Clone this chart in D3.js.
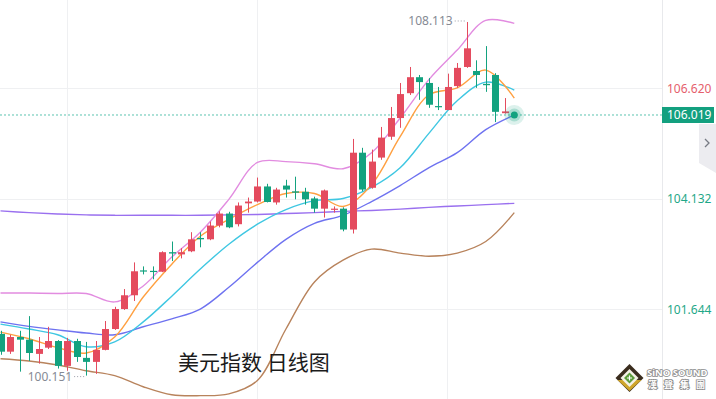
<!DOCTYPE html>
<html lang="zh">
<head>
<meta charset="utf-8">
<title>美元指数 日线图</title>
<script src="https://d3js.org/d3.v7.min.js"></script>
<style>
  body { margin: 0; background: #fff; }
  svg { display: block; font-family: "Noto Sans", "Noto Sans CJK SC", sans-serif; }
</style>
</head>
<body>
<svg id="chart" width="716" height="399"></svg>
<script>
// daily candles, oldest first
const opens  = [101.09,100.69,101.02,100.96,100.64,100.78,100.93,100.37,100.93,100.55,100.46,100.73,101.20,101.65,101.96,102.52,102.51,102.49,102.93,102.88,102.95,103.25,103.22,103.53,103.80,103.56,104.03,104.07,104.41,104.05,104.43,104.30,104.29,104.14,103.91,103.89,103.91,103.44,105.17,104.38,105.06,105.53,105.95,106.51,106.87,106.74,106.22,106.13,106.67,107.10,107.01,106.72,106.92,106.06];
const highs  = [101.16,101.07,101.16,101.49,101.02,101.25,100.95,101.00,100.98,100.91,100.93,101.38,101.70,102.10,102.70,102.61,102.61,102.95,103.17,103.02,103.38,103.38,103.62,103.85,103.84,104.05,104.16,104.61,104.47,104.38,104.56,104.63,104.38,104.18,104.34,103.96,103.94,105.48,105.28,105.24,105.75,106.20,106.74,107.10,106.92,106.85,106.65,106.95,107.19,108.113,107.25,107.57,106.96,106.40];
const lows   = [100.62,100.64,100.24,100.48,100.42,100.75,100.31,100.26,100.46,100.151,100.19,100.72,101.18,101.63,101.83,102.43,102.32,102.48,102.73,102.79,102.93,103.04,103.20,103.49,103.47,103.51,103.82,104.05,104.05,104.00,104.16,104.12,104.00,103.82,103.71,103.82,103.40,103.35,104.30,104.36,105.01,105.46,105.73,106.47,106.36,106.18,106.13,106.13,106.63,107.08,106.63,106.54,105.86,106.05];
const closes = [100.69,101.02,100.96,100.66,100.75,100.93,100.37,100.93,100.57,100.46,100.73,101.20,101.65,101.96,102.50,102.50,102.49,102.93,102.90,102.93,103.22,103.22,103.53,103.80,103.49,103.98,104.07,104.41,104.06,104.34,104.34,104.27,104.12,103.91,104.32,103.91,103.44,105.17,104.34,104.97,105.51,105.95,106.49,106.87,106.76,106.25,106.20,106.65,107.08,107.52,106.92,106.69,106.09,106.10];
const lastPrice = 106.019;

// indicator lines, read every third bar (index 54 = current point)
const lineIdx   = [0,3,6,9,12,15,18,21,24,27,30,33,36,39,42,45,48,51,54];
const maShort   = [101.13,100.98,100.78,100.66,101.02,101.92,102.66,103.29,103.67,104.00,104.25,104.25,103.96,104.45,105.53,106.47,106.63,107.03,106.40];
const maMid     = [101.31,101.20,101.07,100.80,100.91,101.36,101.94,102.55,103.11,103.56,103.89,104.09,104.14,104.39,104.83,105.60,106.34,106.76,106.58];
const maLong    = [101.36,101.26,101.18,101.11,101.07,101.25,101.43,101.65,102.14,102.70,103.22,103.58,103.76,104.07,104.43,104.83,105.17,105.69,106.02];
const maYear    = [103.86,103.82,103.79,103.77,103.76,103.76,103.76,103.76,103.77,103.78,103.80,103.82,103.85,103.87,103.90,103.94,103.97,104.00,104.03];
const bandUpper = [102.01,102.01,102.00,102.00,101.81,102.17,102.82,103.38,104.12,104.95,104.97,104.92,104.81,105.17,105.95,106.81,107.48,108.15,108.08];
const bandLower = [100.53,100.48,100.39,100.26,100.15,99.90,99.72,99.70,99.74,100.04,101.20,102.26,102.75,103.00,102.91,102.84,102.91,103.17,103.82];

const axisTicks = [106.620, 104.132, 101.644];
const title = "美元指数 日线图";

const upColor = "#e44b5e", downColor = "#13a27f";
const svg = d3.select("#chart");
const plotRight = 662;

const x = d3.scaleLinear().domain([0, 54]).range([0.5, 514.3]);
const y = d3.scaleLinear().domain([101.644, 106.620]).range([309.3, 88.3]);

// grid
const grid = svg.append("g");
grid.selectAll("line.h").data(axisTicks).enter().append("line")
  .attr("x1", 0).attr("x2", plotRight)
  .attr("y1", d => Math.round(y(d)) + 0.5).attr("y2", d => Math.round(y(d)) + 0.5)
  .attr("stroke", "#eff0f2");
grid.selectAll("line.v").data([7, 27, 47]).enter().append("line")
  .attr("x1", d => Math.round(x(d - 0.05)) + 0.5).attr("x2", d => Math.round(x(d - 0.05)) + 0.5)
  .attr("y1", 0).attr("y2", 399)
  .attr("stroke", "#eff0f2");
svg.append("line")
  .attr("x1", plotRight + 0.5).attr("x2", plotRight + 0.5)
  .attr("y1", 0).attr("y2", 399)
  .attr("stroke", "#e8e9ec");

// current price dashed line
svg.append("line")
  .attr("x1", 0).attr("x2", plotRight)
  .attr("y1", y(lastPrice)).attr("y2", y(lastPrice))
  .attr("stroke", "#5cc3b0").attr("stroke-dasharray", "2,2");

// indicator lines
const lines = [
  {v: bandLower, c: "#b8835c"},
  {v: maYear,    c: "#9a70ef"},
  {v: bandUpper, c: "#e28ce0"},
  {v: maLong,    c: "#6e72f0"},
  {v: maMid,     c: "#3fc7e2"},
  {v: maShort,   c: "#ffa041"}
];
const lineGen = d3.line()
  .x((d, i) => x(lineIdx[i]))
  .y(d => y(d))
  .curve(d3.curveCatmullRom.alpha(0.5));
svg.append("g").selectAll("path").data(lines).enter().append("path")
  .attr("d", d => lineGen(d.v))
  .attr("fill", "none")
  .attr("stroke", d => d.c)
  .attr("stroke-width", 1.4);

// candles
const bars = d3.range(opens.length).map(i => ({
  i, o: opens[i], h: highs[i], l: lows[i], c: closes[i]
}));
const cg = svg.append("g").selectAll("g").data(bars).enter().append("g");
cg.append("line")
  .attr("x1", d => Math.round(x(d.i)) + 0.5)
  .attr("x2", d => Math.round(x(d.i)) + 0.5)
  .attr("y1", d => y(d.h)).attr("y2", d => y(d.l))
  .attr("stroke", d => d.c >= d.o ? upColor : downColor);
cg.append("rect")
  .attr("x", d => Math.round(x(d.i)) - 3)
  .attr("width", 7)
  .attr("y", d => y(Math.max(d.o, d.c)))
  .attr("height", d => Math.max(1.2, Math.abs(y(d.o) - y(d.c))))
  .attr("fill", d => d.c >= d.o ? upColor : downColor);

// current price dot
const dotX = x(54), dotY = y(lastPrice);
svg.append("circle").attr("cx", dotX).attr("cy", dotY).attr("r", 10)
  .attr("fill", downColor).attr("opacity", 0.15);
svg.append("circle").attr("cx", dotX).attr("cy", dotY).attr("r", 6.5)
  .attr("fill", downColor).attr("opacity", 0.25);
svg.append("circle").attr("cx", dotX).attr("cy", dotY).attr("r", 3.5)
  .attr("fill", downColor);

// high / low markers
const hiIdx = d3.maxIndex(highs), loIdx = d3.minIndex(lows);
function marker(idx, price) {
  const mx = x(idx), my = y(price) + (price === highs[hiIdx] ? 1 : 3);
  svg.append("line")
    .attr("x1", mx - 12).attr("x2", mx)
    .attr("y1", my - 2).attr("y2", my - 2)
    .attr("stroke", "#9a9ea8").attr("stroke-dasharray", "1,2");
  svg.append("text")
    .attr("x", mx - 14).attr("y", my + 2)
    .attr("text-anchor", "end")
    .attr("font-size", 12).attr("fill", "#858a94")
    .text(d3.format(".3f")(price));
}
marker(hiIdx, highs[hiIdx]);
marker(loIdx, lows[loIdx]);

// right axis
const axis = d3.axisRight(y).tickValues(axisTicks).tickSize(0).tickPadding(5)
  .tickFormat(d3.format(".3f"));
const ag = svg.append("g").attr("transform", `translate(${plotRight},0)`).call(axis);
ag.select(".domain").remove();
ag.selectAll("text")
  .attr("font-size", 12)
  .attr("font-family", "Noto Sans, sans-serif")
  .attr("fill", d => d > lastPrice ? "#e5606d" : "#1fa888");

// current price tag
svg.append("rect").attr("x", plotRight).attr("y", dotY - 8).attr("width", 52).attr("height", 16)
  .attr("fill", "#13a07f");
svg.append("text").attr("x", plotRight + 5).attr("y", dotY + 4.5)
  .attr("font-size", 12).attr("fill", "#fff")
  .text(d3.format(".3f")(lastPrice));

// side tab
svg.append("path").attr("d", "M699,124 L716,124 L716,173 L699,163 Z").attr("fill", "#ececf0");
svg.append("path").attr("d", "M705,139 L709,143 L705,147").attr("fill", "none")
  .attr("stroke", "#777b84").attr("stroke-width", 1.3);

// title
svg.append("text").attr("x", 178).attr("y", 370)
  .attr("font-family", "Noto Sans CJK SC, sans-serif")
  .attr("font-size", 21).attr("fill", "#1b1b1b")
  .text(title);

// logo
const logo = svg.append("g");
logo.append("path").attr("d", "M629.5,364 L643.5,378 L629.5,392 L615.5,378 Z").attr("fill", "#3a2c1d");
logo.append("path").attr("d", "M617.5,380 L641.5,380 L629.5,391 Z").attr("fill", "#cfa52a");
logo.append("path").attr("d", "M629.5,369 L638.5,378 L629.5,387 L620.5,378 Z").attr("fill", "#f4f1e6");
logo.append("path").attr("d", "M629.5,372.5 L635,378 L629.5,383.5 L624,378 Z").attr("fill", "#5c9c3a");
logo.append("path").attr("d", "M627,378 L632,378 M629.5,375.5 L629.5,380.5").attr("stroke", "#fff").attr("stroke-width", 1.2);
logo.append("text").attr("x", 647).attr("y", 376)
  .attr("font-size", 9.5).attr("font-weight", "bold").attr("fill", "#fff")
  .attr("stroke", "#8a8a8a").attr("stroke-width", 1.6).attr("paint-order", "stroke")
  .text("SiNO SOUND");
logo.append("text").attr("x", "648 664 680 696").attr("y", 388)
  .attr("font-family", "Noto Sans CJK TC, sans-serif")
  .attr("font-size", 9).attr("font-weight", "bold").attr("fill", "#fff")
  .attr("stroke", "#8a8a8a").attr("stroke-width", 1.6).attr("paint-order", "stroke")
  .text("漢聲集團");
</script>
</body>
</html>
